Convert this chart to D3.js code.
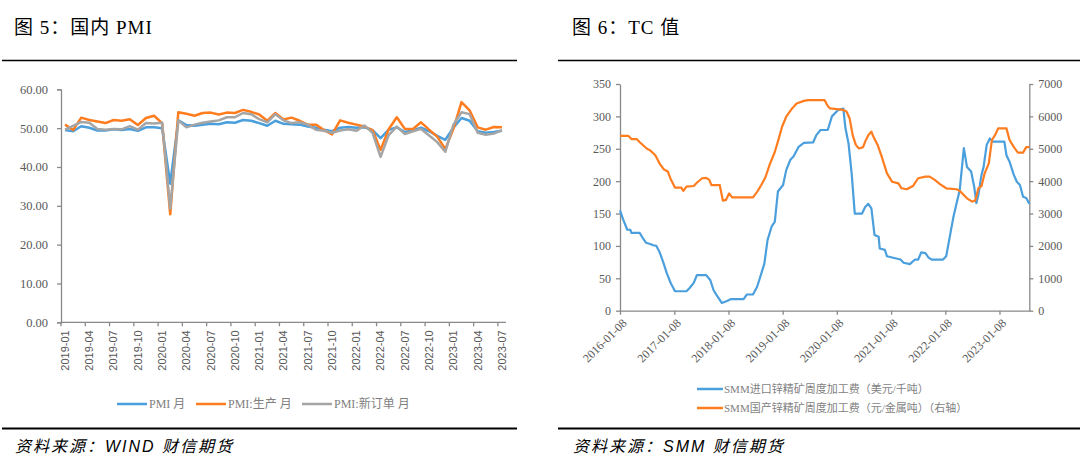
<!DOCTYPE html>
<html><head><meta charset="utf-8">
<script src="https://cdn.jsdelivr.net/npm/d3@7"></script>
<style>
body{margin:0;background:#fff;}
svg{display:block;}
</style></head><body>
<svg id="c" width="1080" height="475"></svg>
<script>
// ---------- Chart 5: PMI ----------
const pmiMonths = [
 "2019-01","2019-02","2019-03","2019-04","2019-05","2019-06","2019-07","2019-08","2019-09","2019-10","2019-11","2019-12",
 "2020-01","2020-02","2020-03","2020-04","2020-05","2020-06","2020-07","2020-08","2020-09","2020-10","2020-11","2020-12",
 "2021-01","2021-02","2021-03","2021-04","2021-05","2021-06","2021-07","2021-08","2021-09","2021-10","2021-11","2021-12",
 "2022-01","2022-02","2022-03","2022-04","2022-05","2022-06","2022-07","2022-08","2022-09","2022-10","2022-11","2022-12",
 "2023-01","2023-02","2023-03","2023-04","2023-05","2023-06","2023-07"];
const pmi = [49.5,49.2,50.5,50.1,49.4,49.4,49.7,49.5,49.8,49.3,50.2,50.2,
 50.0,35.7,52.0,50.8,50.6,50.9,51.1,51.0,51.5,51.4,52.1,51.9,
 51.3,50.6,51.9,51.1,51.0,50.9,50.4,50.1,49.6,49.2,50.1,50.3,
 50.1,50.2,49.5,47.4,49.6,50.2,49.0,49.4,50.1,49.2,48.0,47.0,
 50.1,52.6,51.9,49.2,48.8,49.0,49.3];
const pmiProduction = [50.9,49.5,52.7,52.1,51.7,51.3,52.1,51.9,52.3,50.8,52.6,53.2,
 51.3,27.8,54.1,53.7,53.2,53.9,54.0,53.5,54.0,53.9,54.7,54.2,
 53.5,51.9,53.9,52.2,52.7,51.9,50.9,50.9,49.5,48.4,52.0,51.4,
 50.9,50.4,49.5,44.4,49.7,52.8,49.8,49.8,51.5,49.6,47.8,44.6,
 49.8,56.7,54.6,50.2,49.6,50.3,50.2];
const pmiNewOrders = [49.6,50.6,51.6,51.4,49.8,49.6,49.8,49.7,50.5,49.6,51.3,51.2,
 51.4,29.3,52.0,50.2,50.9,51.4,51.7,52.0,52.8,52.8,53.9,53.6,
 52.3,51.5,53.6,52.0,51.3,51.5,50.9,49.6,49.3,48.8,49.4,49.7,
 49.3,50.7,48.8,42.6,48.2,50.4,48.5,49.2,49.8,48.1,46.4,43.9,
 50.9,54.1,53.6,48.8,48.3,48.6,49.5];
const pmiTickLabels = ["2019-01","2019-04","2019-07","2019-10","2020-01","2020-04","2020-07","2020-10",
 "2021-01","2021-04","2021-07","2021-10","2022-01","2022-04","2022-07","2022-10","2023-01","2023-04","2023-07"];
const pmiYTicks = [0,10,20,30,40,50,60];
const pmiSeriesNames = ["PMI 月","PMI:生产 月","PMI:新订单 月"];

// ---------- Chart 6: TC ----------
const tcImportDates = ["2016-01-08","2016-01-29","2016-02-26","2016-03-18","2016-03-25","2016-05-20","2016-06-10","2016-07-01","2016-07-29","2016-08-19",
 "2016-09-09","2016-09-30","2016-10-28","2016-11-18","2016-12-16","2017-01-13","2017-03-31","2017-04-21","2017-05-19","2017-06-09",
 "2017-08-11","2017-09-08","2017-09-29","2017-10-20","2017-11-24","2017-12-29","2018-01-26","2018-04-20","2018-05-11","2018-06-22",
 "2018-07-20","2018-08-10","2018-09-07","2018-09-28","2018-10-26","2018-11-16","2018-12-07","2019-01-11","2019-02-01","2019-03-01",
 "2019-03-22","2019-04-26","2019-05-31","2019-08-02","2019-08-23","2019-09-20","2019-11-08","2019-12-06","2020-01-17","2020-02-21",
 "2020-03-06","2020-03-27","2020-04-17","2020-05-08","2020-06-26","2020-07-17","2020-08-07","2020-08-28","2020-09-18","2020-10-16",
 "2020-10-23","2020-11-27","2020-12-11","2021-03-12","2021-04-02","2021-05-14","2021-06-18","2021-07-09","2021-07-30","2021-08-27",
 "2021-09-17","2021-10-08","2021-12-24","2022-01-14","2022-02-11","2022-03-04","2022-03-25","2022-04-15","2022-05-13","2022-06-03",
 "2022-07-01","2022-07-22","2022-08-05","2022-08-19","2022-09-09","2022-09-23","2022-10-14","2022-11-04","2022-11-25","2023-02-10",
 "2023-02-24","2023-03-17","2023-04-14","2023-05-05","2023-05-26","2023-06-16","2023-07-07","2023-07-28"];
const tcImport = [155,141,125,125,120,120,112,105,103,101,
 100,91,73,58,42,30,30,35,43,55,
 55,47,32,24,12,15,18,18,25,25,
 37,52,73,109,130,137,184,194,217,233,
 238,253,259,260,271,279,279,300,310,312,
 282,258,212,150,150,160,165,158,117,114,
 96,94,84,79,74,72,79,79,90,89,
 82,79,79,84,119,145,166,186,251,222,
 215,191,166,179,210,222,256,266,261,261,
 240,230,210,199,194,176,174,165];
const tcDomesticDates = ["2016-01-08","2016-03-04","2016-03-25","2016-04-29","2016-05-20","2016-07-08","2016-07-29","2016-09-02","2016-09-30","2016-10-28",
 "2016-11-25","2016-12-16","2017-01-13","2017-02-24","2017-03-10","2017-03-31","2017-05-19","2017-06-09","2017-07-14","2017-08-11",
 "2017-09-01","2017-09-15","2017-11-10","2017-12-01","2017-12-22","2018-01-12","2018-02-02","2018-06-22","2018-07-20","2018-08-17",
 "2018-09-14","2018-10-12","2018-11-16","2018-12-07","2019-01-04","2019-02-01","2019-03-08","2019-04-12","2019-05-31","2019-06-28",
 "2019-10-18","2019-11-08","2019-11-22","2020-02-21","2020-03-13","2020-04-03","2020-04-24","2020-05-15","2020-06-05","2020-07-03",
 "2020-07-17","2020-08-07","2020-08-28","2020-09-11","2020-10-09","2020-11-06","2020-12-11","2021-01-15","2021-02-26","2021-03-19",
 "2021-04-23","2021-06-04","2021-07-09","2021-08-27","2021-09-24","2021-10-29","2021-12-03","2022-01-14","2022-03-25","2022-04-15",
 "2022-06-03","2022-07-08","2022-07-29","2022-08-19","2022-09-09","2022-09-30","2022-10-28","2022-11-18","2022-12-09","2022-12-30",
 "2023-02-24","2023-03-17","2023-04-14","2023-05-12","2023-06-16","2023-07-07","2023-07-28"];
const tcDomestic = [5400,5400,5300,5300,5200,5000,4950,4800,4550,4370,
 4300,4050,3800,3800,3700,3830,3850,3950,4090,4100,
 4040,3880,3880,3400,3420,3620,3500,3500,3670,3880,
 4120,4500,4900,5220,5680,5990,6220,6400,6480,6500,
 6500,6320,6250,6200,6150,5940,5420,5120,5010,5050,
 5220,5420,5530,5370,5120,4750,4240,3980,3930,3780,
 3750,3850,4090,4140,4140,4040,3910,3780,3750,3700,
 3470,3370,3400,3780,3850,4240,4550,5270,5420,5630,
 5630,5270,5060,4880,4880,5050,5050];
const tcTickLabels = ["2016-01-08","2017-01-08","2018-01-08","2019-01-08","2020-01-08","2021-01-08","2022-01-08","2023-01-08"];
const tcLeftTicks = [0,50,100,150,200,250,300,350];
const tcRightTicks = [0,1000,2000,3000,4000,5000,6000,7000];
const tcSeriesNames = ["SMM进口锌精矿周度加工费（美元/千吨）","SMM国产锌精矿周度加工费（元/金属吨）（右轴）"];

// ---------- styles ----------
const BLUE = "#4A9FDC", ORANGE = "#FF7C1F", GRAY = "#A5A5A5";
const AXIS = "#898989", TXT = "#595959", LEG = "#7F7F7F";
const SERIF = "'Liberation Serif','Noto Sans CJK SC',serif";
const SANS = "'Liberation Sans','Noto Sans CJK SC',sans-serif";

const svg = d3.select("#c");

function styleAxis(g){
  g.select(".domain").attr("stroke", AXIS).attr("stroke-width", 1.3);
  g.selectAll(".tick line").attr("stroke", AXIS).attr("stroke-width", 1.3);
  g.selectAll(".tick text").attr("fill", TXT).style("font-family", SERIF).style("font-size", "12px");
}

// Header / footer decorations
function frame(x0, x1, title, source, tx, sx){
  svg.append("text").attr("x", tx).attr("y", 34).text(title)
    .style("font-family", SERIF).style("font-size", "19px").style("letter-spacing", "1px").attr("fill", "#000");
  svg.append("line").attr("x1", x0).attr("x2", x1).attr("y1", 60.5).attr("y2", 60.5)
    .attr("stroke", "#000").attr("stroke-width", 1.6);
  svg.append("line").attr("x1", x0).attr("x2", x1).attr("y1", 428.5).attr("y2", 428.5)
    .attr("stroke", "#000").attr("stroke-width", 2);
  svg.append("text").attr("x", sx).attr("y", 452).text(source)
    .style("font-family", SANS).style("font-size", "16px").style("font-style", "italic")
    .style("letter-spacing", "2px").attr("fill", "#000");
}
frame(2, 517, "图 5：国内 PMI", "资料来源：WIND 财信期货", 14, 15);
frame(558, 1080, "图 6：TC 值", "资料来源：SMM 财信期货", 572, 573);

// ---------- PMI chart ----------
{
  const x = d3.scaleBand().domain(pmiMonths).range([61, 506]).padding(0);
  const y = d3.scaleLinear().domain([0, 60]).range([322.3, 89.3]);
  const gy = svg.append("g").attr("transform", "translate(61,0)")
    .call(d3.axisLeft(y).tickValues(pmiYTicks).tickFormat(d3.format(".2f")).tickSizeOuter(0).tickSize(4).tickPadding(9));
  styleAxis(gy);
  gy.selectAll(".tick text").style("font-size", "12.5px");
  // x axis: ticks on band edges
  const gx = svg.append("g").attr("transform", "translate(0,322.3)");
  gx.append("line").attr("x1", x.range()[0]).attr("x2", x.range()[1]).attr("stroke", AXIS).attr("stroke-width", 1.3);
  const tk = gx.selectAll("g.t").data(pmiTickLabels).join("g").attr("class", "t")
    .attr("transform", d => `translate(${x(d)},0)`);
  tk.append("line").attr("y2", 4).attr("stroke", AXIS).attr("stroke-width", 1.3);
  tk.append("text").text(d => d)
    .attr("transform", `translate(${x.bandwidth()/2},8) rotate(-90)`)
    .attr("text-anchor", "end").attr("dy", "0.35em")
    .style("font-family", SANS).style("font-size", "11px").attr("fill", TXT);

  const line = d3.line().x((d, i) => x(pmiMonths[i]) + x.bandwidth()/2).y(d => y(d));
  [[pmi, BLUE], [pmiProduction, ORANGE], [pmiNewOrders, GRAY]].forEach(([s, c]) => {
    svg.append("path").datum(s).attr("d", line).attr("fill", "none")
      .attr("stroke", c).attr("stroke-width", 2.5).attr("stroke-linejoin", "round");
  });

  // legend
  const legX = [117, 196, 302];
  const cols = [BLUE, ORANGE, GRAY];
  pmiSeriesNames.forEach((n, i) => {
    svg.append("line").attr("x1", legX[i]).attr("x2", legX[i] + 30).attr("y1", 404).attr("y2", 404)
      .attr("stroke", cols[i]).attr("stroke-width", 2.5);
    svg.append("text").attr("x", legX[i] + 32).attr("y", 404).attr("dy", "0.35em").text(n)
      .style("font-family", SERIF).style("font-size", "12px").attr("fill", LEG);
  });
}

// ---------- TC chart ----------
{
  const parse = d3.timeParse("%Y-%m-%d");
  const x = d3.scaleTime().domain([parse("2016-01-08"), parse("2023-07-28")]).range([620, 1029.3]);
  const yL = d3.scaleLinear().domain([0, 350]).range([310.7, 84]);
  const yR = d3.scaleLinear().domain([0, 7000]).range([310.7, 84]);

  const gl = svg.append("g").attr("transform", "translate(620,0)")
    .call(d3.axisLeft(yL).tickValues(tcLeftTicks).tickFormat(d3.format("d")).tickSize(4).tickSizeOuter(0).tickPadding(5));
  styleAxis(gl);
  const gr = svg.append("g").attr("transform", "translate(1029.3,0)")
    .call(d3.axisRight(yR).tickValues(tcRightTicks).tickFormat(d3.format("d")).tickSize(4).tickSizeOuter(0).tickPadding(5));
  styleAxis(gr);
  const gx = svg.append("g").attr("transform", "translate(0,310.7)")
    .call(d3.axisBottom(x).tickValues(tcTickLabels.map(parse)).tickFormat(d3.timeFormat("%Y-%m-%d")).tickSize(4).tickSizeOuter(0));
  styleAxis(gx);
  gx.selectAll(".tick text").attr("text-anchor", "end").attr("dy", null).attr("y", null)
    .attr("transform", "translate(4,10) rotate(-45)").attr("dy", "0.35em");

  const imp = tcImportDates.map((d, i) => [parse(d), tcImport[i]]);
  const dom = tcDomesticDates.map((d, i) => [parse(d), tcDomestic[i]]);
  svg.append("path").datum(imp).attr("d", d3.line().x(d => x(d[0])).y(d => yL(d[1])))
    .attr("fill", "none").attr("stroke", BLUE).attr("stroke-width", 2.2).attr("stroke-linejoin", "round");
  svg.append("path").datum(dom).attr("d", d3.line().x(d => x(d[0])).y(d => yR(d[1])))
    .attr("fill", "none").attr("stroke", ORANGE).attr("stroke-width", 2.2).attr("stroke-linejoin", "round");

  const ly = [389, 408];
  const cols = [BLUE, ORANGE];
  tcSeriesNames.forEach((n, i) => {
    svg.append("line").attr("x1", 697).attr("x2", 723).attr("y1", ly[i]).attr("y2", ly[i])
      .attr("stroke", cols[i]).attr("stroke-width", 2.5);
    svg.append("text").attr("x", 724).attr("y", ly[i]).attr("dy", "0.35em").text(n)
      .style("font-family", SERIF).style("font-size", "11px").attr("fill", LEG);
  });
}
</script>
</body></html>
